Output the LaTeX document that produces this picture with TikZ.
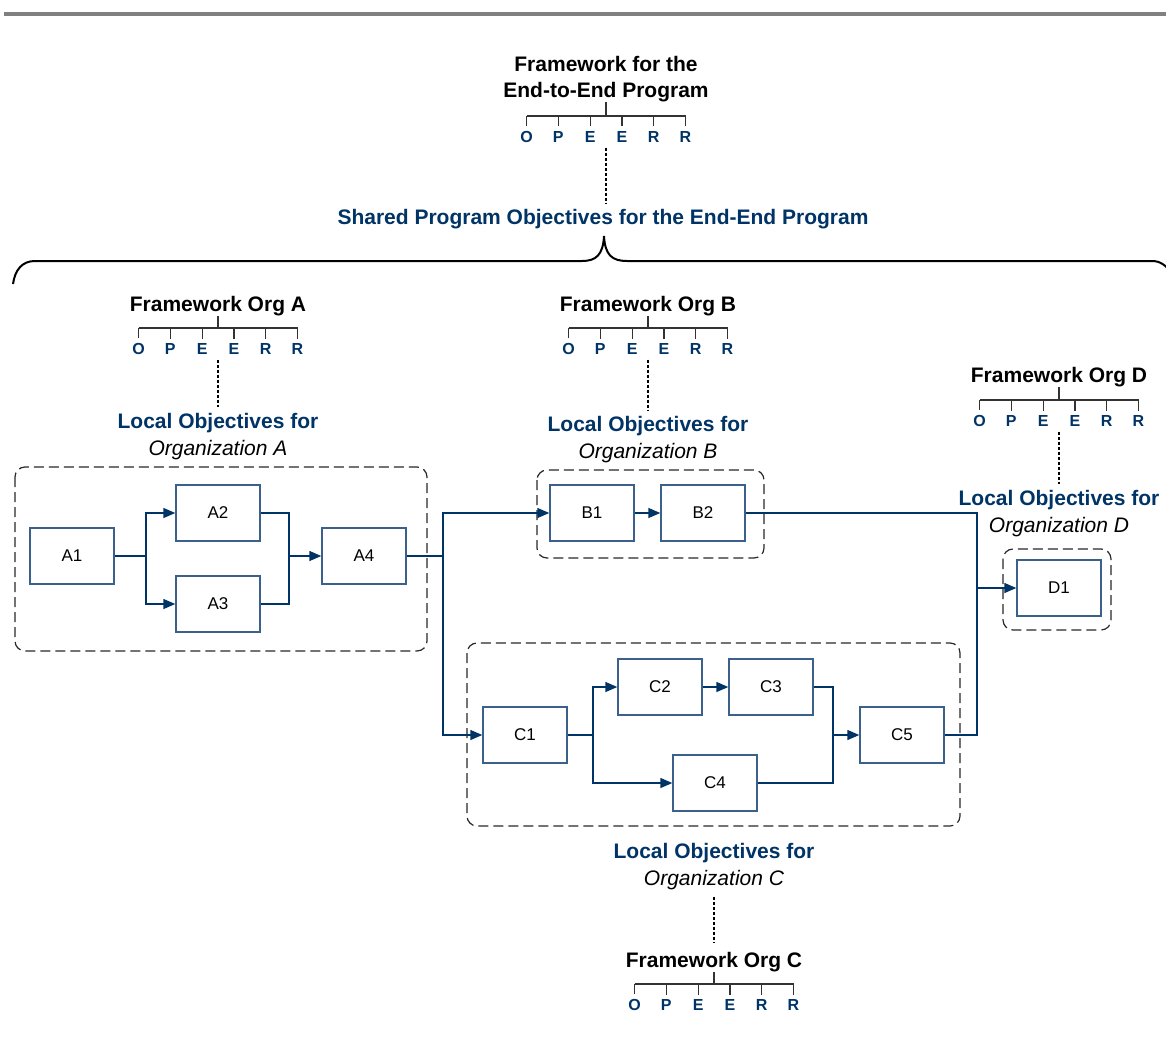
\documentclass[tikz,border=0pt]{standalone}
\usepackage{fontspec}
\setmainfont{Liberation Sans}
\usetikzlibrary{arrows.meta}

\definecolor{objblue}{RGB}{0,51,102}
\definecolor{boxblue}{RGB}{60,96,140}
\definecolor{framegray}{RGB}{40,40,40}
\definecolor{bargray}{RGB}{128,128,128}

% framework bar with the six letters below it
\newcommand{\opeerr}[3]{%
    \coordinate (#1) at (#2,#3);
    \draw[tree] (#2-79.5,#3) -- (#2+79.5,#3);
    \foreach \lt [count=\i] in {O,P,E,E,R,R}{
        \node[letter] (#1-\i) at ({#2-111.3+31.8*\i},{#3+21}) {\lt};
        \draw[tree] (#1-\i.north |- #1) -- (#1-\i.north);
    }
}

\begin{document}
\begin{tikzpicture}[x=0.5pt,y=0.5pt,yscale=-1,
    tree/.style={draw=black!80,line width=0.6pt},
    letter/.style={text=objblue,font=\fontsize{8}{9}\selectfont\bfseries,inner sep=2.3pt},
    fwtitle/.style={font=\fontsize{10.5}{13}\selectfont\bfseries,align=center,inner sep=0pt},
    localobj/.style={font=\fontsize{10.5}{13.5}\selectfont,align=center,inner sep=3pt},
    objlink/.style={line width=1.1pt,dash pattern=on 1.5pt off 1pt},
    process/.style={draw=boxblue,line width=0.7pt,minimum width=42pt,minimum height=28pt,font=\fontsize{8.5}{10}\selectfont},
    flow/.style={draw=objblue,line width=0.7pt},
    flowarrow/.style={flow,-{Triangle[length=6pt,width=5pt]}},
    orgframe/.style={draw=framegray,line width=0.6pt,dash pattern=on 5pt off 2.5pt,rounded corners=5pt}]
    \useasboundingbox (0,0) rectangle (1166,1044);

    %Straight Lines: top bar
    \draw[bargray,line width=2pt] (4,14) -- (1166,14);

    % Text Node
    \node[fwtitle] (fwTop) at (606,79) {Framework for the\\End-to-End Program};
    \opeerr{treeTop}{606}{116}
    \draw[tree] (fwTop.south) -- (treeTop);
    % Text Node
    \node[text=objblue,font=\fontsize{10.5}{13}\selectfont\bfseries,inner sep=3pt] (shared) at (603,219) {Shared Program Objectives for the End-End Program};
    \draw[objlink] (treeTop |- treeTop-3.south) -- (treeTop |- shared.north);

    %Shape: Brace
    \draw[line width=1pt] (13,284) .. controls (15,270) and (22,261) .. (35,261) -- (582,261)
        .. controls (596,261) and (603,255) .. (604,236) .. controls (605,255) and (612,261) .. (627,261)
        -- (1152,261) .. controls (1160,261) and (1166,265) .. (1172,274);

    % Text Node
    \node[fwtitle] (fwA) at (218,306) {Framework Org A};
    \opeerr{treeA}{218}{328}
    \draw[tree] (fwA.south) -- (treeA);
    \node[localobj] (locA) at (218,437) {{\color{objblue}\bfseries Local Objectives for}\\\itshape Organization A};
    \draw[objlink] (treeA |- treeA-3.south) -- (treeA |- locA.north);

    % Text Node
    \node[fwtitle] (fwB) at (648,306) {Framework Org B};
    \opeerr{treeB}{648}{328}
    \draw[tree] (fwB.south) -- (treeB);
    \node[localobj] (locB) at (648,440) {{\color{objblue}\bfseries Local Objectives for}\\\itshape Organization B};
    \draw[objlink] (treeB |- treeB-3.south) -- (treeB |- locB.north);

    % Text Node
    \node[fwtitle] (fwD) at (1059,377) {Framework Org D};
    \opeerr{treeD}{1059}{400}
    \draw[tree] (fwD.south) -- (treeD);
    \node[localobj] (locD) at (1059,514) {{\color{objblue}\bfseries Local Objectives for}\\\itshape Organization D};
    \draw[objlink] (treeD |- treeD-3.south) -- (treeD |- locD.north);

    % Text Node
    \node[localobj] (locC) at (714,867) {{\color{objblue}\bfseries Local Objectives for}\\\itshape Organization C};
    \node[fwtitle] (fwC) at (714,962) {Framework Org C};
    \opeerr{treeC}{714}{984}
    \draw[tree] (fwC.south) -- (treeC);
    \draw[objlink,shorten >=4.5pt] (locC.south) -- (fwC.north);

    %Shape: Rectangle (organisations)
    \draw[orgframe] (15,467) rectangle (427,651);
    \draw[orgframe] (537,470) rectangle (764,558);
    \draw[orgframe] (467,643) rectangle (960,826);
    \draw[orgframe] (1003,549) rectangle (1111,630);

    %Shape: Rectangle (steps)
    \node[process] (A1) at (72,556) {A1};
    \node[process] (A2) at (218,513) {A2};
    \node[process] (A3) at (218,604) {A3};
    \node[process] (A4) at (364,556) {A4};
    \node[process] (B1) at (592,513) {B1};
    \node[process] (B2) at (703,513) {B2};
    \node[process] (C1) at (525,735) {C1};
    \node[process] (C2) at (660,687) {C2};
    \node[process] (C3) at (771,687) {C3};
    \node[process] (C4) at (715,783) {C4};
    \node[process] (C5) at (902,735) {C5};
    \node[process] (D1) at (1059,588) {D1};

    \coordinate (splitA) at (146,556);
    \coordinate (joinA) at (289,556);
    \coordinate (splitBC) at (443,556);
    \coordinate (splitC) at (593,735);
    \coordinate (joinC) at (833,735);
    \coordinate (joinD) at (977,588);

    %Straight Lines
    \draw[flow] (A1) -- (splitA);
    \draw[flowarrow] (splitA) |- (A2);
    \draw[flowarrow] (splitA) |- (A3);
    \draw[flow] (A2) -| (joinA);
    \draw[flow] (A3) -| (joinA);
    \draw[flowarrow] (joinA) -- (A4);
    \draw[flow] (A4) -- (splitBC);
    \draw[flowarrow] (splitBC) |- (B1);
    \draw[flowarrow] (splitBC) |- (C1);
    \draw[flowarrow] (B1) -- (B2);
    \draw[flow] (C1) -- (splitC);
    \draw[flowarrow] (splitC) |- (C2);
    \draw[flowarrow] (splitC) |- (C4);
    \draw[flowarrow] (C2) -- (C3);
    \draw[flow] (C3) -| (joinC);
    \draw[flow] (C4) -| (joinC);
    \draw[flowarrow] (joinC) -- (C5);
    \draw[flow] (B2) -| (joinD);
    \draw[flow] (C5) -| (joinD);
    \draw[flowarrow] (joinD) -- (D1);

\end{tikzpicture}
\end{document}
